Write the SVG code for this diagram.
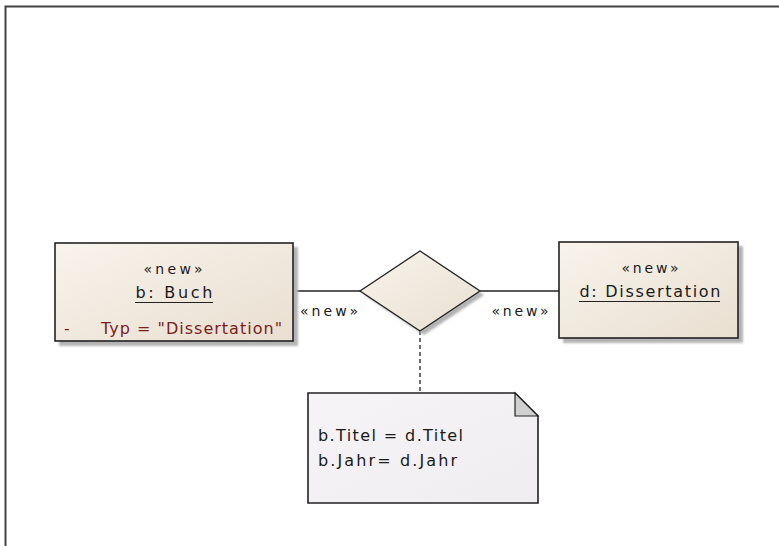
<svg xmlns="http://www.w3.org/2000/svg" width="779" height="546" viewBox="0 0 779 546">
<style>
.t{font-family:"DejaVu Sans","Liberation Sans",sans-serif;fill:#1a1a1a}
.s{font-size:14px}
.m{font-size:16px}
.frame{stroke:#444;stroke-width:2;fill:none}
.box{stroke:#222;stroke-width:1.6}
.shadow{fill:#b4b4b4}
.conn{stroke:#222;stroke-width:1.3;fill:none}
</style>
<defs>
<linearGradient id="beige" x1="0" y1="0" x2="1" y2="1">
<stop offset="0" stop-color="#f8f3ec"/>
<stop offset="1" stop-color="#e9dfd0"/>
</linearGradient>
<linearGradient id="note" x1="0" y1="0" x2="1" y2="1">
<stop offset="0" stop-color="#f6f4f6"/>
<stop offset="1" stop-color="#efedef"/>
</linearGradient>
<filter id="blur" x="-10%" y="-10%" width="120%" height="120%"><feGaussianBlur stdDeviation="1.2"/></filter>
</defs>
<rect width="779" height="546" fill="#fff"/>
<path class="frame" d="M5.5 546 V6.5 H779"/>

<g id="connectors">
<line class="conn" x1="293" y1="291" x2="361" y2="291"/>
<line class="conn" x1="480" y1="291" x2="559" y2="291"/>
<line class="conn" x1="420" y1="331" x2="420" y2="393" stroke-dasharray="4,3"/>
<text class="t s" x="329" y="316" text-anchor="middle" textLength="58" lengthAdjust="spacing">«new»</text>
<text class="t s" x="520" y="316" text-anchor="middle" textLength="57" lengthAdjust="spacing">«new»</text>
</g>

<g id="buch">
<rect class="shadow" x="59" y="247" width="239" height="99" filter="url(#blur)"/>
<rect class="box" x="55" y="243" width="238" height="98" fill="url(#beige)"/>
<text class="t s" x="173" y="274" text-anchor="middle" textLength="59" lengthAdjust="spacing">«new»</text>
<text class="t m" x="174" y="298" text-anchor="middle" textLength="77" lengthAdjust="spacing">b: Buch</text>
<line x1="135" y1="302.5" x2="213" y2="302.5" stroke="#222" stroke-width="1.2"/>
<text class="t m" x="64" y="334" style="fill:#7a1e1e">-</text>
<text class="t m" x="101" y="334" textLength="181" lengthAdjust="spacing" style="fill:#7a1e1e">Typ = "Dissertation"</text>
</g>

<g id="dissertation">
<rect class="shadow" x="563" y="246" width="180" height="97" filter="url(#blur)"/>
<rect class="box" x="559" y="242" width="179" height="96" fill="url(#beige)"/>
<text class="t s" x="650" y="273" text-anchor="middle" textLength="57" lengthAdjust="spacing">«new»</text>
<text class="t m" x="650" y="297" text-anchor="middle" textLength="141" lengthAdjust="spacing">d: Dissertation</text>
<line x1="579" y1="301.5" x2="720" y2="301.5" stroke="#222" stroke-width="1.2"/>
</g>

<g id="diamond">
<polygon points="424,255 484,295 424,335 364,295" fill="#b4b4b4" filter="url(#blur)"/>
<polygon points="420,251 480,291 420,331 360,291" fill="url(#beige)" stroke="#222" stroke-width="1.3"/>
</g>

<g id="note-node">
<path d="M308 393 H515 L538 416 V503 H308 Z" fill="url(#note)" stroke="#222" stroke-width="1.6"/>
<path d="M515 393 V416 H538 Z" fill="#d0d0d0" stroke="#222" stroke-width="1.2"/>
<text class="t m" x="318" y="441" textLength="145" lengthAdjust="spacing">b.Titel = d.Titel</text>
<text class="t m" x="318" y="466" textLength="139" lengthAdjust="spacing">b.Jahr= d.Jahr</text>
</g>
</svg>
